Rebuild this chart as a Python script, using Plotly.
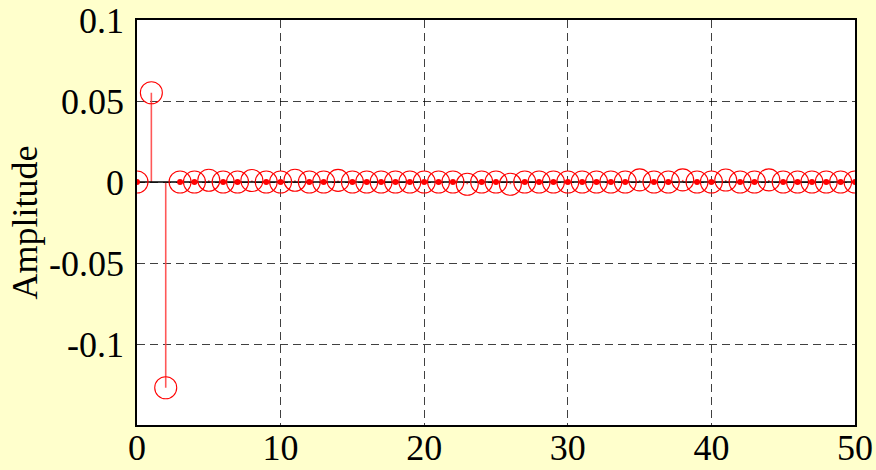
import plotly.graph_objects as go

# sample index
n = list(range(51))
# amplitude values
amplitude = [0, 0.0551, -0.1270, 0, 0, 0.0011, 0, 0, 0.0009, 0,
             0, 0.0011, 0, 0, 0.0010, 0, 0, 0, 0, 0,
             0, 0, 0, -0.0014, 0, 0, -0.0014, 0, 0, 0,
             0, 0, 0, 0, 0, 0.0013, 0, 0, 0.0013, 0,
             0, 0.0012, 0, 0, 0.0013, 0, 0, 0, 0, 0,
             0]
x_ticks = [0, 10, 20, 30, 40, 50]
y_ticks = [-0.1, -0.05, 0, 0.05, 0.1]
y_tick_labels = ["-0.1", "-0.05", "0", "0.05", "0.1"]
title_text = "Impulse"
y_label = "Amplitude"

FONT = "Liberation Serif"

# stems built from the data
sx, sy = [], []
for xi, yi in zip(n, amplitude):
    sx += [xi, xi, None]
    sy += [0, yi, None]

zero_x = [xi for xi, yi in zip(n, amplitude) if yi == 0]
zero_y = [yi for yi in amplitude if yi == 0]

fig = go.Figure()
fig.add_trace(go.Scatter(x=sx, y=sy, mode="lines",
                         line=dict(color="rgba(255,70,70,0.9)", width=1.6),
                         hoverinfo="skip", showlegend=False))
fig.add_trace(go.Scatter(x=[n[0], n[-1]], y=[0, 0], mode="lines",
                         line=dict(color="black", width=1.6),
                         hoverinfo="skip", showlegend=False))
fig.add_trace(go.Scatter(x=zero_x, y=zero_y, mode="markers",
                         marker=dict(symbol="circle", size=6, color="#FF0000"),
                         showlegend=False))
fig.add_trace(go.Scatter(x=n, y=amplitude, mode="markers",
                         marker=dict(symbol="circle-open", size=22,
                                     color="#FF0000", line=dict(width=1.1)),
                         showlegend=False))

axis_common = dict(showline=True, linecolor="black", linewidth=1.5, mirror=True,
                   showgrid=True, gridcolor="rgba(0,0,0,0.75)", gridwidth=1,
                   griddash="8px,5px", zeroline=False, ticks="",
                   tickfont=dict(family=FONT, size=36, color="black"))

fig.update_xaxes(range=[0, 50], tickvals=x_ticks, ticklabelstandoff=-10,
                 **axis_common)
fig.update_yaxes(range=[-0.15, 0.1], tickvals=y_ticks, ticktext=y_tick_labels,
                 ticklabelstandoff=4, **axis_common)

fig.add_annotation(text=y_label, textangle=-90, xref="paper", yref="paper",
                   x=0, y=0.5, xanchor="center", yanchor="middle", xshift=-113,
                   showarrow=False, font=dict(family=FONT, size=36, color="black"))
fig.add_annotation(text=title_text, xref="paper", yref="paper",
                   x=0.547, y=1, xanchor="center", yanchor="bottom", yshift=18,
                   showarrow=False, font=dict(family=FONT, size=36, color="black"))

fig.update_layout(width=876, height=470,
                  margin=dict(l=137, r=21, t=20, b=45, autoexpand=False),
                  paper_bgcolor="#FFFFCC", plot_bgcolor="white",
                  showlegend=False)

fig.write_html("out.html",
               config={"displayModeBar": False},
               post_script="document.body.style.margin='0';"
                           "document.body.style.background='#FFFFCC';"
                           "document.body.style.overflow='hidden';")
